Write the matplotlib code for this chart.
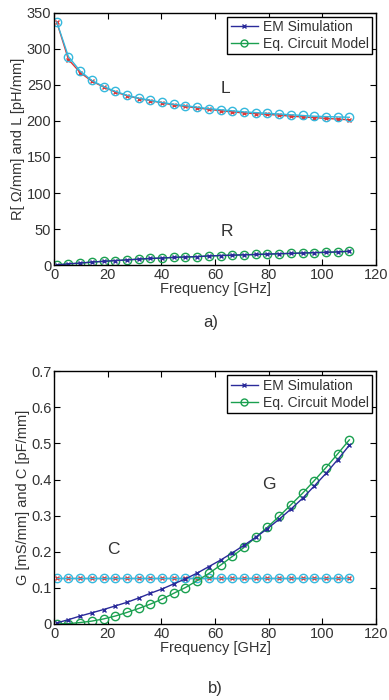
import numpy as np
from matplotlib import pyplot as plt

# frequency sweep [GHz]
freq = [1.0, 5.36, 9.72, 14.08, 18.44, 22.8, 27.16, 31.52, 35.88, 40.24, 44.6, 48.96, 53.32,
        57.68, 62.04, 66.4, 70.76, 75.12, 79.48, 83.84, 88.2, 92.56, 96.92, 101.28, 105.64, 110.0]

# panel a) inductance [pH/mm] and resistance [Ohm/mm]
L_em = [337, 285, 267, 255, 247, 240, 235, 231, 228, 225, 222, 220, 218, 216, 214, 212.5,
        211, 210, 209, 208, 206.5, 205.5, 204.5, 203.5, 202.5, 201.5]
L_eq = [337, 289, 269, 256, 247.5, 241, 235.5, 231.5, 228.5, 225.5, 223, 221, 219, 217,
        215.5, 214, 212.5, 211.5, 210.5, 209.5, 208.5, 207.5, 206.5, 206, 205.5, 205]
R_em = [0.5, 2, 3, 4.5, 5.5, 6.5, 7.5, 8.5, 9.5, 10, 11, 11.5, 12, 13, 13.5, 14, 14.5, 15,
        15.5, 16, 16.5, 17, 17.5, 18, 18.5, 19.5]
R_eq = [0.5, 2, 3, 4.5, 5.5, 6.5, 7.5, 8.5, 9.5, 10, 11, 11.5, 12, 13, 13.5, 14, 14.5, 15,
        15.5, 16, 16.5, 17, 17.5, 18, 18.5, 19.5]

# panel b) conductance [mS/mm] and capacitance [pF/mm]
G_em = [0.003, 0.012, 0.022, 0.031, 0.040, 0.050, 0.060, 0.072, 0.085, 0.097, 0.111, 0.125,
        0.141, 0.159, 0.177, 0.197, 0.218, 0.240, 0.264, 0.290, 0.318, 0.348, 0.382, 0.417,
        0.455, 0.495]
G_eq = [0.0, 0.001, 0.004, 0.008, 0.014, 0.022, 0.032, 0.043, 0.055, 0.069, 0.085, 0.101,
        0.120, 0.140, 0.163, 0.187, 0.212, 0.240, 0.268, 0.298, 0.330, 0.362, 0.397, 0.433,
        0.471, 0.510]
C_em = [0.128] * 26
C_eq = [0.128] * 26

blue = '#2a2a9a'
green = '#1aa050'
red = '#e03535'
cyan = '#35b8dd'
txt = '#333333'

plt.rcParams['font.family'] = 'Liberation Sans'
plt.rcParams['font.size'] = 10

fig = plt.figure(figsize=(3.89, 7.0), dpi=100)
ax1 = fig.add_axes([0.139, 0.621, 0.828, 0.361])
ax2 = fig.add_axes([0.139, 0.1086, 0.828, 0.361])


def style(ax):
    ax.tick_params(direction='in', top=True, right=True, colors='black',
                   labelcolor=txt, length=4, width=0.8, labelsize=10.5, pad=2)
    for s in ax.spines.values():
        s.set_linewidth(1.0)
    ax.set_xlim(0, 120)
    ax.set_xticks(np.arange(0, 121, 20))
    ax.set_xlabel('Frequency [GHz]', color=txt, labelpad=0, fontsize=10.5)


def add_legend(ax, handles):
    leg = ax.legend(handles=handles, loc='upper right', fancybox=False, framealpha=1,
                    edgecolor='black', borderpad=0.25, handlelength=2.0, handletextpad=0.3,
                    labelspacing=0.2, borderaxespad=0.3, fontsize=10)
    leg.get_frame().set_linewidth(1.0)
    for t in leg.get_texts():
        t.set_color(txt)


# panel a
ax1.plot(freq, L_em, color=red, marker='x', ms=3.5, lw=1.0)
ax1.plot(freq, L_eq, color=cyan, marker='o', ms=6, mfc='none', lw=1.0)
ax1.plot(freq, R_eq, color=green, marker='o', ms=6, mfc='none', lw=1.0)
ax1.plot(freq, R_em, color=blue, marker='x', ms=3.5, lw=1.0)
h_em, = ax1.plot([], [], color=blue, marker='x', ms=3.5, lw=1.0, label='EM Simulation')
h_eq, = ax1.plot([], [], color=green, marker='o', ms=5, mfc='none', lw=1.0,
                 label='Eq. Circuit Model')
ax1.set_ylim(0, 350)
ax1.set_yticks(np.arange(0, 351, 50))
ax1.set_ylabel('R[ \u03a9/mm] and L [pH/mm]', color=txt, labelpad=1, fontsize=10.5)
ax1.text(64, 245, 'L', fontsize=12.5, color=txt, ha='center', va='center')
ax1.text(64.5, 47, 'R', fontsize=12.5, color=txt, ha='center', va='center')
style(ax1)
add_legend(ax1, [h_em, h_eq])
fig.text(0.543, 0.54, 'a)', ha='center', va='center', fontsize=12, color=txt)

# panel b
ax2.plot(freq, C_em, color=red, marker='x', ms=3.5, lw=1.0)
ax2.plot(freq, C_eq, color=cyan, marker='o', ms=6, mfc='none', lw=1.0)
ax2.plot(freq, G_eq, color=green, marker='o', ms=6, mfc='none', lw=1.0)
ax2.plot(freq, G_em, color=blue, marker='x', ms=3.5, lw=1.0)
h_em2, = ax2.plot([], [], color=blue, marker='x', ms=3.5, lw=1.0, label='EM Simulation')
h_eq2, = ax2.plot([], [], color=green, marker='o', ms=5, mfc='none', lw=1.0,
                  label='Eq. Circuit Model')
ax2.set_ylim(0, 0.7)
ax2.set_yticks(np.arange(0, 0.71, 0.1))
ax2.set_yticklabels(['0', '0.1', '0.2', '0.3', '0.4', '0.5', '0.6', '0.7'])
ax2.set_ylabel('G [mS/mm] and C [pF/mm]', color=txt, labelpad=1, fontsize=10.5)
ax2.text(80, 0.387, 'G', fontsize=12.5, color=txt, ha='center', va='center')
ax2.text(22, 0.205, 'C', fontsize=12.5, color=txt, ha='center', va='center')
style(ax2)
add_legend(ax2, [h_em2, h_eq2])
fig.text(0.553, 0.016, 'b)', ha='center', va='center', fontsize=12, color=txt)

fig.savefig('out.png', dpi=100)
